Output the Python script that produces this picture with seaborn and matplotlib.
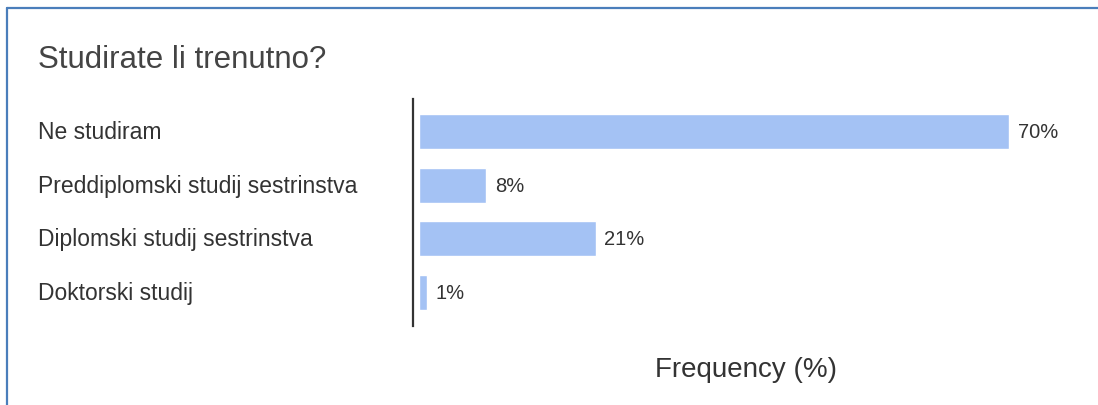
import matplotlib
matplotlib.use("Agg")
import matplotlib.pyplot as plt
from matplotlib.lines import Line2D
import pandas as pd
import seaborn as sns

sns.set_theme(style="white")
plt.rcParams['font.family'] = ['Liberation Sans', 'DejaVu Sans']

# Data
categories = ["Ne studiram", "Preddiplomski studij sestrinstva",
              "Diplomski studij sestrinstva", "Doktorski studij"]
frequency = [70, 8, 21, 1]
value_labels = ["70%", "8%", "21%", "1%"]

df = pd.DataFrame({"category": categories, "frequency": frequency})

W, H = 1098, 406
fig = plt.figure(figsize=(W / 100, H / 100), dpi=100)
ax = fig.add_axes([413 / W, (H - 327) / H, 667 / W, 227 / H])

sns.barplot(data=df, y="category", x="frequency", orient="h",
            color="#a4c2f4", width=0.65, saturation=1, ax=ax)

ax.set_xlim(-0.71, 78.4)
ax.set_ylim(3.625, -0.605)

# value labels next to each bar
for i, (v, lab) in enumerate(zip(frequency, value_labels)):
    ax.text(v + 1.0, i, lab, va="center", ha="left", fontsize=14.5, color="#333333")

for s in ["top", "right", "bottom"]:
    ax.spines[s].set_visible(False)
ax.spines["left"].set_color("#333333")
ax.spines["left"].set_linewidth(1.6)
ax.set_xticks([])
ax.set_ylabel("")
ax.set_xlabel("")
ax.tick_params(axis="y", length=0, pad=0)
ax.set_yticklabels([])

# category labels left-aligned at the chart's left margin
for i, cat in enumerate(categories):
    ax.annotate(cat, xy=(38 / W, i), xycoords=("figure fraction", "data"),
                ha="left", va="center", fontsize=16.5, color="#333333")

fig.text(38 / W, 1 - 60 / H, "Studirate li trenutno?", ha="left", va="center",
         fontsize=22.5, color="#444444")
fig.text(746 / W, 1 - 370 / H, "Frequency (%)", ha="center", va="center",
         fontsize=20, color="#333333")

# blue frame edges (top and left)
fig.add_artist(Line2D([6.5 / W, 1], [1 - 8.5 / H, 1 - 8.5 / H], color="#4a7ebb", lw=1.6))
fig.add_artist(Line2D([6.5 / W, 6.5 / W], [0, 1 - 8.5 / H], color="#4a7ebb", lw=1.6))

fig.savefig("out.png", dpi=100)
